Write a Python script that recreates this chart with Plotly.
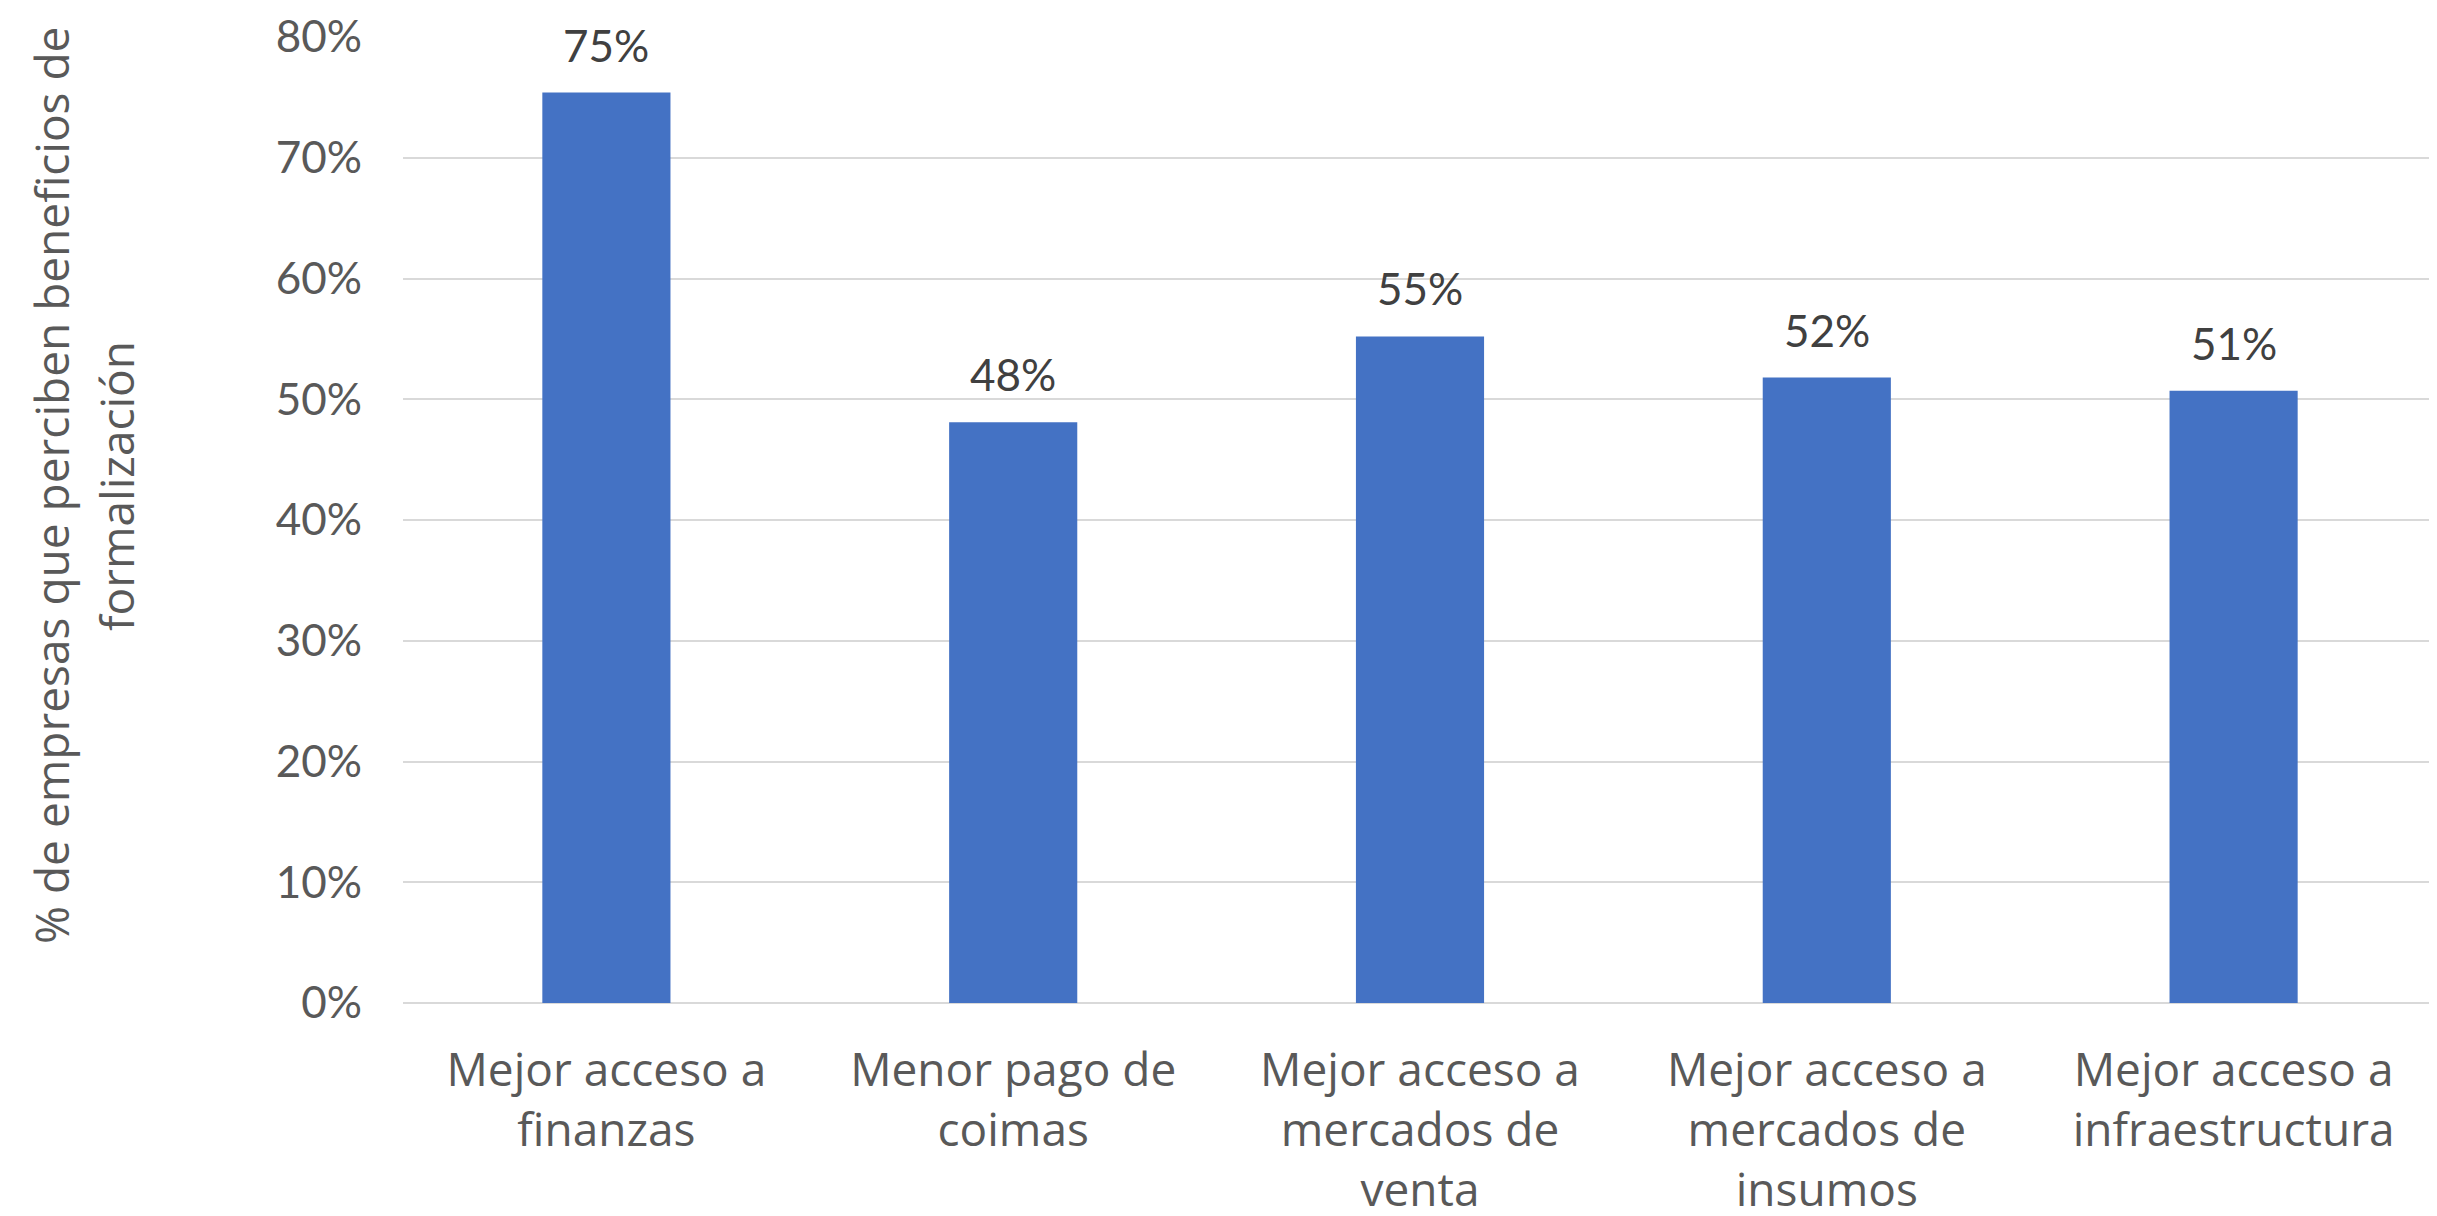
import plotly.graph_objects as go

categories = [
    "Mejor acceso a<br>finanzas",
    "Menor pago de<br>coimas",
    "Mejor acceso a<br>mercados de<br>venta",
    "Mejor acceso a<br>mercados de<br>insumos",
    "Mejor acceso a<br>infraestructura",
]
values = [0.754, 0.481, 0.552, 0.518, 0.507]
value_labels = ["75%", "48%", "55%", "52%", "51%"]
y_ticks = [0, 0.1, 0.2, 0.3, 0.4, 0.5, 0.6, 0.7, 0.8]
y_ticklabels = ["0%", "10%", "20%", "30%", "40%", "50%", "60%", "70%", "80%"]
y_title_lines = ["% de empresas que perciben beneficios de", "formalización"]

W, H = 2437, 1216
L, R, T, B = 395, 8, 29, 221
plot_w = W - L - R
plot_h = H - T - B

fig = go.Figure()
fig.add_trace(go.Bar(
    x=categories, y=values,
    marker=dict(color="#4472C4", line=dict(width=0)),
    hoverinfo="skip",
))

for c, v, lab in zip(categories, values, value_labels):
    fig.add_annotation(
        x=c, y=v, xref="x", yref="y", text=lab, showarrow=False,
        yanchor="bottom", xanchor="center", yshift=20,
        font=dict(family="Lato", size=44, color="#404040"),
    )

fig.update_layout(
    width=W, height=H,
    margin=dict(l=L, r=R, t=T, b=B, autoexpand=False),
    paper_bgcolor="white", plot_bgcolor="white",
    bargap=0.685, showlegend=False,
    xaxis=dict(
        tickfont=dict(family="Open Sans", size=46, color="#595959"),
        showgrid=False, showline=False, ticks="", automargin=False,
        ticklabelstandoff=36,
    ),
    yaxis=dict(
        range=[0, 0.8], tickvals=y_ticks, ticktext=y_ticklabels,
        tickfont=dict(family="Lato", size=44, color="#595959"),
        showgrid=True, gridcolor="#D9D9D9", gridwidth=2,
        zeroline=True, zerolinecolor="#D9D9D9", zerolinewidth=2,
        showline=False, ticks="", automargin=False,
        ticklabelstandoff=40,
    ),
)

title_x_px = [43, 108]
for line, xp in zip(y_title_lines, title_x_px):
    fig.add_annotation(
        text=line, textangle=-90,
        xref="paper", yref="paper",
        x=(xp - L) / plot_w, y=(H - B - 478) / plot_h,
        xanchor="center", yanchor="middle", showarrow=False,
        font=dict(family="Open Sans", size=46, color="#595959"),
    )

fig.write_html("out.html")
